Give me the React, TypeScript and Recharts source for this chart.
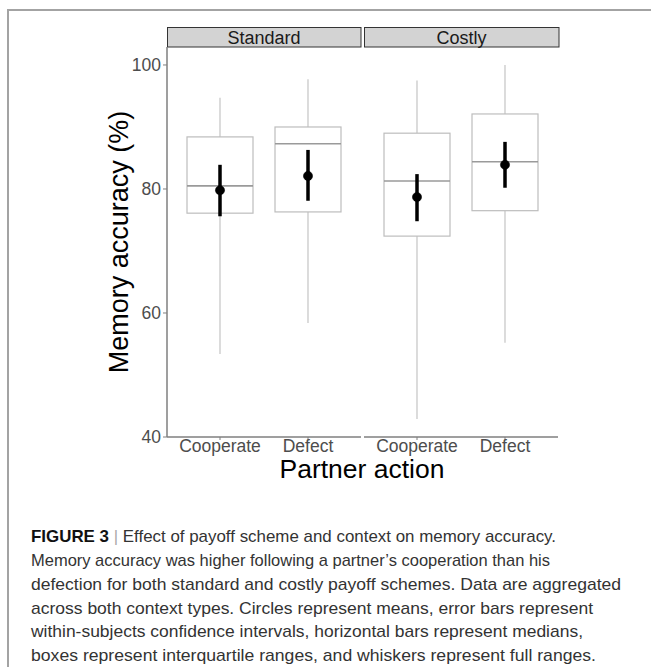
import React from "react";
import { Bar, ComposedChart, ErrorBar, Line, XAxis, YAxis } from "recharts";

const actions = ["Cooperate", "Defect"];
const schemes = ["Standard", "Costly"];
const yTicks = [40, 60, 80, 100];

// standard payoff scheme
const standardMin = [53.4, 58.4];
const standardQ1 = [76.1, 76.3];
const standardMedian = [80.5, 87.3];
const standardQ3 = [88.4, 90.0];
const standardMax = [94.7, 97.7];
const standardMean = [79.8, 82.1];
const standardCiLow = [75.6, 78.1];
const standardCiHigh = [83.9, 86.3];

// costly payoff scheme
const costlyMin = [42.9, 55.2];
const costlyQ1 = [72.4, 76.5];
const costlyMedian = [81.3, 84.4];
const costlyQ3 = [89.0, 92.1];
const costlyMax = [97.5, 100];
const costlyMean = [78.7, 83.9];
const costlyCiLow = [74.8, 80.2];
const costlyCiHigh = [82.4, 87.6];

const captionLines = [
  "Memory accuracy was higher following a partner\u2019s cooperation than his",
  "defection for both standard and costly payoff schemes. Data are aggregated",
  "across both context types. Circles represent means, error bars represent",
  "within-subjects confidence intervals, horizontal bars represent medians,",
  "boxes represent interquartile ranges, and whiskers represent full ranges.",
];
const captionWidths = [519, 590, 562, 552, 565];

const buildRows = (
  min: number[],
  q1: number[],
  median: number[],
  q3: number[],
  max: number[],
  mean: number[],
  ciLow: number[],
  ciHigh: number[]
) =>
  actions.map((action, i) => ({
    action,
    min: min[i],
    q1: q1[i],
    median: median[i],
    q3: q3[i],
    max: max[i],
    mean: mean[i],
    err: [mean[i] - ciLow[i], ciHigh[i] - mean[i]],
  }));

const standardRows = buildRows(
  standardMin, standardQ1, standardMedian, standardQ3,
  standardMax, standardMean, standardCiLow, standardCiHigh
);
const costlyRows = buildRows(
  costlyMin, costlyQ1, costlyMedian, costlyQ3,
  costlyMax, costlyMean, costlyCiLow, costlyCiHigh
);

const FONT = '"Liberation Sans", Arial, Helvetica, sans-serif';
const AXIS_GREY = "#7f7f7f";
const TEXT_GREY = "#4d4d4d";

// the bar spans min..max, so whiskers, box and median are placed on that span
const BoxShape = (props: any) => {
  const { x, y, width, height, payload } = props;
  const top = Math.min(y, y + height);
  const bottom = Math.max(y, y + height);
  const span = payload.max - payload.min;
  const py = (v: number) => top + ((payload.max - v) / span) * (bottom - top);
  const cx = x + width / 2;
  return (
    <g>
      <line x1={cx} x2={cx} y1={top} y2={py(payload.q3)} stroke="#c4c4c4" strokeWidth={1.2} />
      <line x1={cx} x2={cx} y1={py(payload.q1)} y2={bottom} stroke="#c4c4c4" strokeWidth={1.2} />
      <rect
        x={x}
        y={py(payload.q3)}
        width={width}
        height={py(payload.q1) - py(payload.q3)}
        fill="#ffffff"
        stroke="#bdbdbd"
        strokeWidth={1.2}
      />
      <line
        x1={x}
        x2={x + width}
        y1={py(payload.median)}
        y2={py(payload.median)}
        stroke="#9a9a9a"
        strokeWidth={1.6}
      />
    </g>
  );
};

const YTitle = (props: any) => {
  const { viewBox } = props;
  const cy = viewBox.y + viewBox.height / 2;
  const bx = 128;
  return (
    <text
      x={bx}
      y={cy}
      transform={`rotate(-90, ${bx}, ${cy})`}
      textAnchor="middle"
      fontSize={27}
      fontFamily={FONT}
      fill="#000"
    >
      Memory accuracy (%)
    </text>
  );
};

const Panel = ({ rows, showY }: { rows: any[]; showY: boolean }) => (
  <ComposedChart
    width={showY ? 361 : 194}
    height={470}
    data={rows}
    margin={{ top: 47, right: 0, bottom: 0, left: showY ? 117 : 0 }}
  >
    <XAxis
      dataKey="action"
      interval={0}
      height={33}
      padding={{ left: 9, right: 9 }}
      tickSize={3}
      tickMargin={0}
      axisLine={{ stroke: AXIS_GREY, strokeWidth: 1.5 }}
      tickLine={{ stroke: AXIS_GREY }}
      tick={{ fill: TEXT_GREY, fontSize: 17.5, fontFamily: FONT }}
    />
    <YAxis
      type="number"
      domain={[40, 102.9]}
      ticks={yTicks}
      allowDataOverflow
      hide={!showY}
      width={50}
      tickSize={4}
      tickMargin={2}
      axisLine={{ stroke: AXIS_GREY, strokeWidth: 1.5 }}
      tickLine={{ stroke: AXIS_GREY }}
      tick={{ fill: TEXT_GREY, fontSize: 17.5, fontFamily: FONT }}
      label={showY ? { content: <YTitle /> } : undefined}
    />
    <Bar
      dataKey={(d: any) => [d.min, d.max]}
      barSize={66}
      shape={<BoxShape />}
      isAnimationActive={false}
    />
    <Line
      dataKey="mean"
      stroke="none"
      dot={{ r: 4.6, fill: "#000", stroke: "#000", strokeWidth: 0.5 }}
      activeDot={false}
      isAnimationActive={false}
    >
      <ErrorBar dataKey="err" width={0} stroke="#000" strokeWidth={3.5} direction="y" />
    </Line>
  </ComposedChart>
);

export default function App() {
  return (
    <div
      style={{
        position: "absolute",
        left: 0,
        top: 0,
        width: 651,
        height: 667,
        background: "#fff",
        overflow: "hidden",
      }}
    >
      <svg width={651} height={667} style={{ position: "absolute", left: 0, top: 0 }}>
        <path d="M 8 667 L 8 10 L 651 10" fill="none" stroke="#a3a3a3" strokeWidth={2} />
        {schemes.map((s, i) => (
          <g key={s}>
            <rect
              x={i === 0 ? 167.5 : 364.5}
              y={27.5}
              width={i === 0 ? 193.5 : 194.5}
              height={19.5}
              fill="#d3d3d3"
              stroke="#333"
              strokeWidth={1}
            />
            <text
              x={i === 0 ? 264 : 461.5}
              y={44}
              textAnchor="middle"
              fontSize={18}
              fontFamily={FONT}
              fill="#1a1a1a"
            >
              {s}
            </text>
          </g>
        ))}
        <text x={362} y={478} textAnchor="middle" fontSize={26.5} fontFamily={FONT} fill="#000">
          Partner action
        </text>
        <text x={31} y={542} fontSize={17} fontFamily={FONT} fill="#333" textLength={525} lengthAdjust="spacingAndGlyphs">
          <tspan fontWeight="bold" fill="#111">FIGURE 3</tspan>
          <tspan fill="#aaa"> | </tspan>
          <tspan>Effect of payoff scheme and context on memory accuracy.</tspan>
        </text>
        {captionLines.map((line, i) => (
          <text
            key={i}
            x={31}
            y={566 + i * 23.8}
            fontSize={17}
            fontFamily={FONT}
            fill="#333"
            textLength={captionWidths[i]}
            lengthAdjust="spacingAndGlyphs"
          >
            {line}
          </text>
        ))}
      </svg>
      <div style={{ position: "absolute", left: 0, top: 0 }}>
        <Panel rows={standardRows} showY />
      </div>
      <div style={{ position: "absolute", left: 364, top: 0 }}>
        <Panel rows={costlyRows} showY={false} />
      </div>
    </div>
  );
}
